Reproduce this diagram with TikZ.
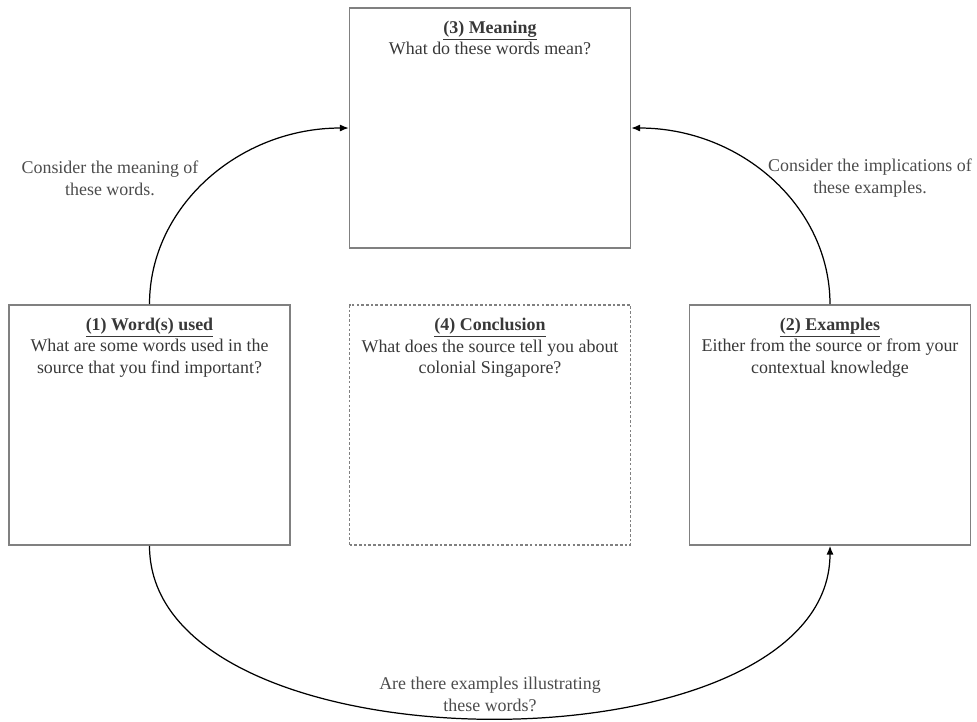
\documentclass[tikz,border=0pt]{standalone}
\usepackage{fontspec}
\setmainfont{Liberation Serif}
\usetikzlibrary{positioning,arrows.meta}

\tikzset{
  box/.style={draw=black!50, line width=0.9pt, minimum width=5.62cm, minimum height=4.8cm, inner sep=0pt},
  dashbox/.style={box, line width=0.6pt, dash pattern=on 1.5pt off 1.2pt},
  boxtext/.style={align=center, inner sep=0pt, text=black!78, font=\fontsize{10.2}{12.4}\selectfont},
  note/.style={align=center, inner sep=0pt, text=black!70, font=\fontsize{10.2}{12.4}\selectfont},
  link/.style={line width=0.7pt, -{Latex[length=5pt,width=4pt]}}
}

\begin{document}
\begin{tikzpicture}
\useasboundingbox (0,0) rectangle (19.54,-14.42);

% the four boxes
\node[box] (meaning) at (9.8,-2.56) {};
\node[box] (word) at (2.99,-8.5) {};
\node[dashbox] (concl) at (9.8,-8.5) {};
\node[box] (examples) at (16.6,-8.5) {};

% what is written in them
\node[boxtext, below=0.26cm of meaning.north] (meaningtxt) {\underline{\textbf{(3) Meaning}}\\What do these words mean?};
\node[boxtext, below=0.26cm of word.north] (wordtxt) {\underline{\textbf{(1) Word(s) used}}\\What are some words used in the\\source that you find important?};
\node[boxtext, below=0.26cm of concl.north] (concltxt) {\underline{\textbf{(4) Conclusion}}\\What does the source tell you about\\colonial Singapore?};
\node[boxtext, below=0.26cm of examples.north] (examplestxt) {\underline{\textbf{(2) Examples}}\\Either from the source or from your\\contextual knowledge};

% the cycle
\draw[link] (word.north) .. controls +(0,1.95) and +(-2.2,0) .. (meaning.west);
\draw[link] (examples.north) .. controls +(0,1.95) and +(2.2,0) .. (meaning.east);
\draw[link] (word.south) .. controls +(0,-4.6) and +(0,-4.6) .. (examples.south);

\node[note] (noteleft) at (2.2,-3.56) {Consider the meaning of\\these words.};
\node[note] (noteright) at (17.4,-3.56) {Consider the implications of\\these examples.};
\node[note] (notebottom) at (9.8,-13.88) {Are there examples illustrating\\these words?};
\end{tikzpicture}
\end{document}
